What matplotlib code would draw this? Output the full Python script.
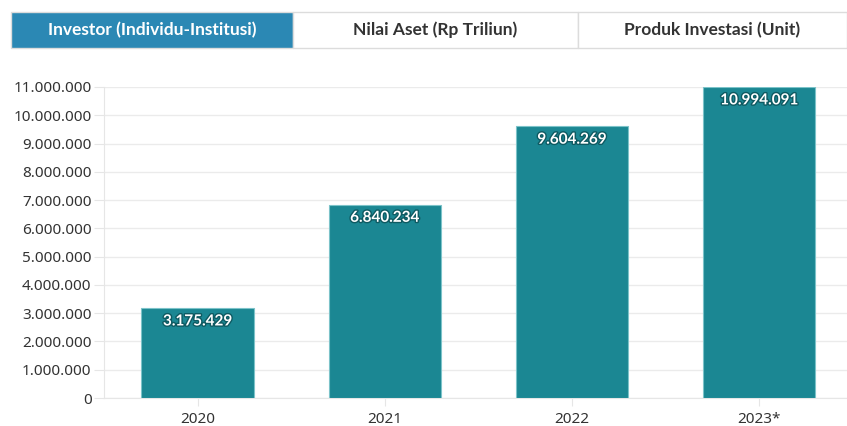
import matplotlib.pyplot as plt
import matplotlib.patheffects as pe
from matplotlib.patches import Rectangle
from matplotlib.ticker import FuncFormatter

years = ["2020", "2021", "2022", "2023*"]
investors = [3175429, 6840234, 9604269, 10994091]
tabs = ["Investor (Individu-Institusi)", "Nilai Aset (Rp Triliun)", "Produk Investasi (Unit)"]


def dotted(v, pos=None):
    return f"{int(v):,}".replace(",", ".")


fig = plt.figure(figsize=(8.47, 4.26), dpi=100)

# tab bar at the top
tab_x = [11, 293, 578, 847]
for i, name in enumerate(tabs):
    x0, x1 = tab_x[i] / 847, tab_x[i + 1] / 847
    active = i == 0
    fig.patches.append(Rectangle((x0, 1 - 48 / 426), x1 - x0, 36 / 426,
                                 transform=fig.transFigure,
                                 facecolor="#2b88b4" if active else "white",
                                 edgecolor="#dcdcdc", linewidth=1))
    fig.text((x0 + x1) / 2, 1 - 30 / 426, name, ha="center", va="center",
             fontsize=12.5, fontweight="bold", family="Lato",
             color="white" if active else "#333333")

ax = fig.add_axes([104 / 847, 1 - 398 / 426, 1 - 104 / 847, (398 - 87) / 426])
bars = ax.bar(range(len(years)), investors, width=0.6, color="#1b8793",
              edgecolor="#7cc3c9", linewidth=0.8, zorder=3)

for b, v in zip(bars, investors):
    ax.text(b.get_x() + b.get_width() / 2, v - 220000, dotted(v),
            ha="center", va="top", color="white", fontsize=11,
            fontweight="bold", family="Lato", zorder=4,
            path_effects=[pe.withStroke(linewidth=2, foreground="#0e5a62")])

ax.set_ylim(0, 11000000)
ax.set_xlim(-0.5, 3.47)
ax.set_yticks(range(0, 11000001, 1000000))
ax.yaxis.set_major_formatter(FuncFormatter(dotted))
ax.set_xticks(range(len(years)))
ax.set_xticklabels(years)
ax.grid(axis="y", color="#ebebeb", linewidth=1, zorder=0)
for s in ["top", "right"]:
    ax.spines[s].set_visible(False)
ax.spines["left"].set_color("#e6e6e6")
ax.spines["bottom"].set_color("#e6e6e6")
ax.tick_params(axis="y", length=7, color="#e6e6e6", labelsize=11, labelcolor="#333333", pad=2)
ax.tick_params(axis="x", length=6, color="#e6e6e6", labelsize=11, labelcolor="#333333", pad=4)
for lbl in ax.get_xticklabels() + ax.get_yticklabels():
    lbl.set_family("Noto Sans")

fig.savefig("out.png", dpi=100)
